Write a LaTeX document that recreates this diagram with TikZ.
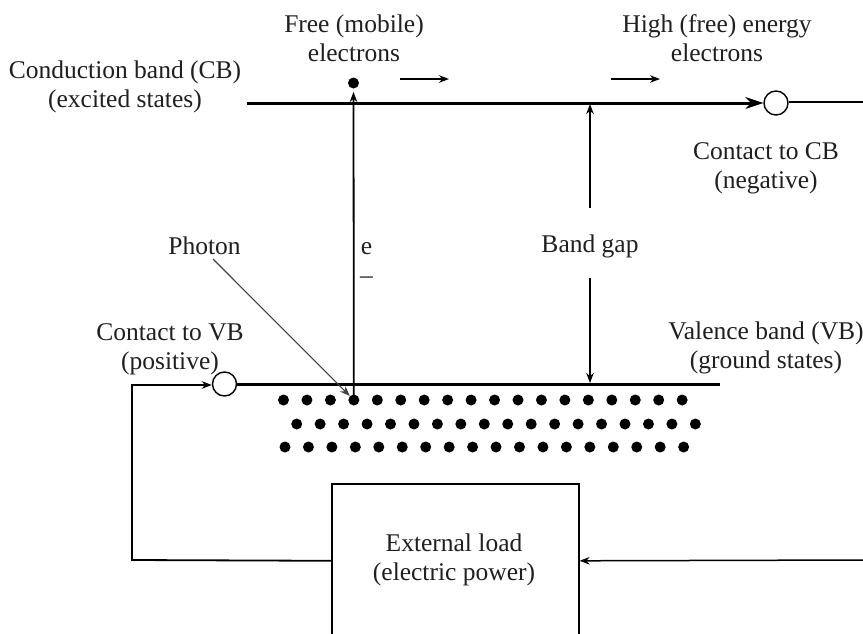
\documentclass[tikz,border=0pt]{standalone}
\usepackage{fontspec}
\setmainfont{Liberation Serif}
\usetikzlibrary{arrows.meta}
\tikzset{
  x=1pt,y=-1pt,
  lbl/.style={align=center,inner sep=0pt,font=\fontsize{25.5}{29}\selectfont,text=black!88},
  band/.style={line width=3pt},
  wire/.style={line width=1.8pt},
  thin wire/.style={line width=1.5pt},
  tip/.style={-{Stealth[length=10pt,width=7.5pt]}},
  bigtip/.style={-{Stealth[length=18pt,width=12pt]}},
  contact/.style={circle,draw,line width=1.4pt,fill=white,minimum size=24pt,inner sep=0pt},
  elec/.style={circle,fill=black,minimum size=11pt,inner sep=0pt},
}
\begin{document}
\begin{tikzpicture}
\useasboundingbox (0,0) rectangle (863,633);
\clip (0,0) rectangle (863,633);
% coordinates
\coordinate (cbstart) at (247,103);
\coordinate (vbend) at (720,384);
\coordinate (cbout) at (863,102);
\coordinate (loadin) at (863,560);
\coordinate (cornerA) at (132,560);
\coordinate (cornerB) at (132,385);
\coordinate (gapT) at (590,104);
\coordinate (gapB) at (590,383);
\coordinate (gapU) at (590,208);
\coordinate (gapD) at (590,278);
\coordinate (eTip) at (353.5,92);
\coordinate (phStart) at (213,259);
\coordinate (m1a) at (400,79);
\coordinate (m1b) at (449,79);
\coordinate (m2a) at (611,79);
\coordinate (m2b) at (660,79);
\coordinate (tailin) at (750,103);
% contacts
\node[contact] (cc) at (776,103) {};
\node[contact] (cv) at (224.5,384) {};
% electrons
\foreach \i in {0,...,17}{\node[elec] (a\i) at ({283.5+23.45*\i},400) {};}
\foreach \i in {0,...,17}{\node[elec] (b\i) at ({296.7+23.45*\i},424) {};}
\foreach \i in {0,...,17}{\node[elec] (c\i) at ({285+23.45*\i},447) {};}
\node[elec] (free) at (353.5,83) {};
% bands
\draw[band] (cbstart) -- (tailin);
\draw[line width=1.5pt,bigtip] (tailin) -- (cc.west);
\draw[band] (cv.east) -- (vbend);
\draw[thin wire] (cc.east |- cbout) -- (cbout);
% vertical excitation
\draw[wire,tip] (a3.center) -- (eTip);
% band gap
\draw[thin wire,tip] (gapU) -- (gapT);
\draw[thin wire,tip] (gapD) -- (gapB);
% photon
\draw[line width=1.1pt,black!75,tip] (phStart) -- (a3);
% motion arrows
\draw[thin wire,tip] (m1a) -- (m1b);
\draw[thin wire,tip] (m2a) -- (m2b);
% load
\node[draw,line width=1.6pt,minimum width=247pt,minimum height=154pt,inner sep=0pt,anchor=north west] (box) at (331,483) {};
\node[lbl] (boxtext) at (454,560) {External load\\(electric power)};
\draw[wire,tip] (box.west) -- (cornerA) -- (cornerB) -- (cv.west |- cornerB);
\draw[thin wire,tip] (loadin) -- (box.east);
% labels
\node[lbl] (t1) at (125,87) {Conduction band (CB)\\(excited states)};
\node[lbl] (t2) at (354,38) {Free (mobile)\\electrons};
\node[lbl] (t3) at (717,38) {High (free) energy\\electrons};
\node[lbl] (t4) at (766,168) {Contact to CB\\(negative)};
\node[lbl] (t5) at (204.5,246) {Photon};
\node[lbl] (t6) at (590,246) {Band gap};
\node[lbl] (t7) at (170,349) {Contact to VB\\(positive)};
\node[lbl] (t8) at (766,348) {Valence band (VB)\\(ground states)};
\node[lbl] (t9) at (366.5,263) {e\\–};
\end{tikzpicture}
\end{document}
